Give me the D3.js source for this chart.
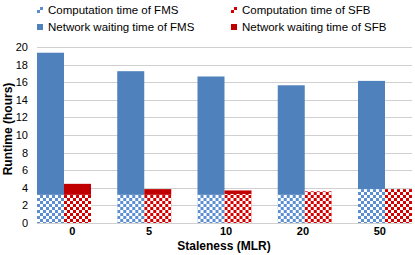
<!DOCTYPE html>
<html>
<head>
<meta charset="utf-8">
<script src="https://cdn.jsdelivr.net/npm/d3@7"></script>
<style>
  body { margin: 0; background: #fff; }
  text { font-family: "Liberation Sans", Arial, sans-serif; fill: #000; }
</style>
</head>
<body>
<div id="chart"></div>
<script>
// chart data
const staleness = ['0', '5', '10', '20', '50'];
const fmsCompute = [3.2, 3.2, 3.2, 3.2, 3.85];
const fmsNetwork = [16.15, 14.05, 13.45, 12.45, 12.3];
const sfbCompute = [3.2, 3.2, 3.3, 3.6, 3.85];
const sfbNetwork = [1.25, 0.65, 0.4, 0, 0];
const yTicks = [0, 2, 4, 6, 8, 10, 12, 14, 16, 18, 20];

const width = 415, height = 255;
const blue = '#4f81bd', red = '#c00000';

const svg = d3.select('#chart').append('svg')
	.attr('width', width)
	.attr('height', height);

// checker patterns
const defs = svg.append('defs');
function checker(id, color) {
	const p = defs.append('pattern')
		.attr('id', id)
		.attr('patternUnits', 'userSpaceOnUse')
		.attr('width', 6).attr('height', 6);
	p.append('rect').attr('width', 6).attr('height', 6).attr('fill', '#fff');
	p.append('rect').attr('width', 3).attr('height', 3).attr('fill', color);
	p.append('rect').attr('x', 3).attr('y', 3).attr('width', 3).attr('height', 3).attr('fill', color);
}
checker('chkBlue', '#5b8fd2');
checker('chkRed', '#d40000');

const x = d3.scaleBand()
	.domain(staleness)
	.range([37, 412])
	.paddingInner(0.327)
	.paddingOuter(0);
const xSub = d3.scaleBand()
	.domain(['FMS', 'SFB'])
	.range([0, x.bandwidth()]);
// label positions
const xLab = d3.scalePoint()
	.domain(staleness)
	.range([71.7, 379.3]);
const y = d3.scaleLinear()
	.domain([0, 20])
	.range([223, 47]);

// gridlines
svg.append('g')
	.selectAll('line')
	.data(yTicks)
	.enter().append('line')
	.attr('x1', 37).attr('x2', 412)
	.attr('y1', d => Math.round(y(d)) + 0.5)
	.attr('y2', d => Math.round(y(d)) + 0.5)
	.attr('stroke', '#d0d0d0')
	.attr('stroke-width', 1);

// y axis labels
const yAxis = svg.append('g')
	.attr('transform', 'translate(28,0)')
	.call(d3.axisLeft(y).tickValues(yTicks).tickSize(0).tickPadding(0));
yAxis.select('.domain').remove();
yAxis.selectAll('text')
	.style('font-size', '11px')
	.style('font-family', '"Liberation Sans", Arial, sans-serif');

// x axis labels
const xAxis = svg.append('g')
	.attr('transform', 'translate(0,227)')
	.call(d3.axisBottom(xLab).tickSize(0).tickPadding(0));
xAxis.select('.domain').remove();
xAxis.selectAll('text')
	.style('font-size', '11px')
	.style('font-weight', 'bold')
	.style('font-family', '"Liberation Sans", Arial, sans-serif');

// bars
const groups = svg.append('g')
	.selectAll('g')
	.data(staleness)
	.enter().append('g')
	.attr('transform', d => 'translate(' + x(d) + ',0)');

function stack(name, comp, net, color, pat) {
	groups.append('rect')
		.attr('x', xSub(name))
		.attr('width', xSub.bandwidth())
		.attr('y', (d, i) => y(comp[i]))
		.attr('height', (d, i) => y(0) - y(comp[i]))
		.attr('fill', 'url(#' + pat + ')');
	groups.append('rect')
		.attr('x', xSub(name))
		.attr('width', xSub.bandwidth())
		.attr('y', (d, i) => y(comp[i] + net[i]))
		.attr('height', (d, i) => y(comp[i]) - y(comp[i] + net[i]))
		.attr('fill', color);
}
stack('FMS', fmsCompute, fmsNetwork, blue, 'chkBlue');
stack('SFB', sfbCompute, sfbNetwork, red, 'chkRed');

// axis titles
svg.append('text')
	.attr('x', 224).attr('y', 250)
	.attr('text-anchor', 'middle')
	.style('font-size', '12px')
	.style('font-weight', 'bold')
	.text('Staleness (MLR)');
svg.append('text')
	.attr('transform', 'translate(12,129) rotate(-90)')
	.attr('text-anchor', 'middle')
	.style('font-size', '12px')
	.style('font-weight', 'bold')
	.text('Runtime (hours)');

// legend
const legend = [
	{label: 'Computation time of FMS', fill: 'url(#chkBlue)', x: 37, y: 10},
	{label: 'Computation time of SFB', fill: 'url(#chkRed)', x: 231, y: 10},
	{label: 'Network waiting time of FMS', fill: blue, x: 37, y: 27},
	{label: 'Network waiting time of SFB', fill: red, x: 231, y: 27}
];
const lg = svg.append('g')
	.selectAll('g')
	.data(legend)
	.enter().append('g')
	.attr('transform', d => 'translate(' + d.x + ',' + d.y + ')');
lg.append('rect')
	.attr('x', 0).attr('y', -3)
	.attr('width', 6).attr('height', 6)
	.attr('fill', d => d.fill);
lg.append('text')
	.attr('x', 11).attr('y', 4)
	.style('font-size', '11.5px')
	.text(d => d.label);
</script>
</body>
</html>
